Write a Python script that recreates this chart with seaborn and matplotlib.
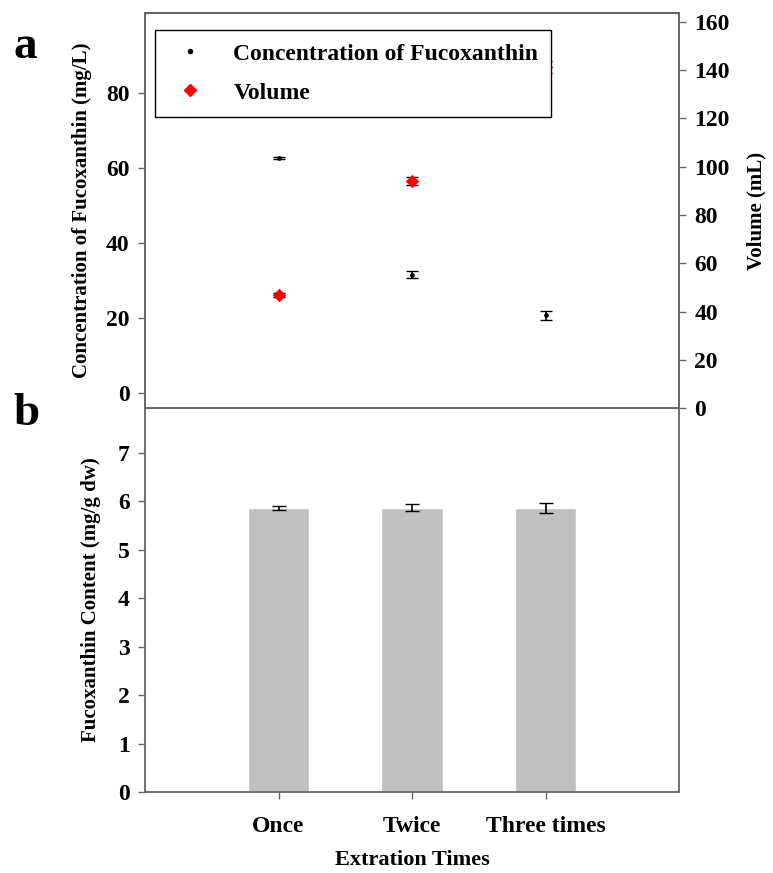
import matplotlib.pyplot as plt
import seaborn as sns
import pandas as pd

times = ['Once', 'Twice', 'Three times']
conc = [62.7, 31.5, 20.7]
conc_err = [0.3, 0.9, 1.1]
volume = [47.0, 94.0, 141.5]
volume_err = [0.8, 1.6, 2.5]
content = [5.87, 5.87, 5.86]
content_err = [0.04, 0.07, 0.10]

sns.set_theme(style='white')
plt.rcParams['font.family'] = ['Liberation Serif', 'DejaVu Serif']
plt.rcParams['font.weight'] = 'bold'
plt.rcParams['axes.labelweight'] = 'bold'
plt.rcParams['text.color'] = 'black'
plt.rcParams['axes.labelcolor'] = 'black'
plt.rcParams['xtick.color'] = 'black'
plt.rcParams['ytick.color'] = 'black'
spine_col = '#666666'

fig = plt.figure(figsize=(7.73, 8.73), dpi=100)
ax1 = fig.add_axes([0.1876, 0.5326, 0.691, 0.4525])
ax3 = fig.add_axes([0.1876, 0.0928, 0.691, 0.4399])

pos = list(range(len(times)))
df = pd.DataFrame({'pos': pos, 'times': times, 'conc': conc, 'volume': volume,
                   'content': content})

# panel a
ax2 = ax1.twinx()
ax1.errorbar(pos, conc, yerr=conc_err, fmt='none', ecolor='black', capsize=4, lw=1.2)
sns.scatterplot(data=df, x='pos', y='conc', ax=ax1, color='black', marker='o', s=10,
                edgecolor='black', legend=False, zorder=3)
ax2.errorbar(pos, volume, yerr=volume_err, fmt='none', ecolor='black', capsize=4, lw=1.2)
sns.scatterplot(data=df, x='pos', y='volume', ax=ax2, color='red', marker='D', s=40,
                edgecolor='red', legend=False, zorder=3)
ax1.set_xlim(-1, 3)
ax1.set_ylim(-4, 101.3)
ax2.set_ylim(0, 163.7)
ax1.set_yticks([0, 20, 40, 60, 80])
ax2.set_yticks(range(0, 161, 20))
ax1.set_xticks([])
ax1.set_xlabel('')
ax1.set_ylabel('Concentration of Fucoxanthin (mg/L)', fontsize=15, fontweight='bold',
               labelpad=10)
ax2.set_ylabel('Volume (mL)', fontsize=15, fontweight='bold', labelpad=12)
ax2.set_xlabel('')

h1 = plt.Line2D([], [], ls='none', marker='o', ms=3, color='black')
h2 = plt.Line2D([], [], ls='none', marker='D', ms=6, color='red')
leg = ax2.legend([h1, h2], ['Concentration of Fucoxanthin', 'Volume'],
                 loc='upper left', bbox_to_anchor=(0.019, 0.957), frameon=True,
                 fancybox=False, edgecolor='black', framealpha=1,
                 prop={'size': 17, 'weight': 'bold'}, handletextpad=0.9,
                 borderpad=0.55, labelspacing=0.75, handlelength=1.86, borderaxespad=0.0)
leg.get_frame().set_linewidth(1.0)

# panel b
sns.barplot(data=df, x='pos', y='content', ax=ax3, color='#c0c0c0', width=0.46,
            errorbar=None, saturation=1, native_scale=True)
ax3.errorbar(pos, content, yerr=content_err, fmt='none', ecolor='black', capsize=5, lw=1.2)
ax3.set_xlim(-1, 3)
ax3.set_ylim(0, 7.93)
ax3.set_yticks(range(0, 8))
ax3.set_xticks(pos)
ax3.set_xticklabels(times)
ax3.set_xlabel('Extration Times', fontsize=16, fontweight='bold', labelpad=10)
ax3.set_ylabel('Fucoxanthin Content (mg/g dw)', fontsize=15, fontweight='bold',
               labelpad=12)

for ax in (ax1, ax2, ax3):
    for sp in ax.spines.values():
        sp.set_color(spine_col)
        sp.set_linewidth(1.3)
    ax.tick_params(axis='both', which='both', direction='out', length=5, width=1,
                   color=spine_col, labelsize=17, pad=6)
ax1.tick_params(axis='y', left=True)
ax2.tick_params(axis='y', right=True)
ax3.tick_params(axis='y', left=True)
ax3.tick_params(axis='x', bottom=True, pad=12)
for lab in ax1.get_yticklabels() + ax2.get_yticklabels() + ax3.get_yticklabels() + ax3.get_xticklabels():
    lab.set_fontweight('bold')

fig.text(0.018, 0.934, 'a', fontsize=34, fontweight='bold')
fig.text(0.018, 0.513, 'b', fontsize=34, fontweight='bold')

plt.savefig('out.png', dpi=100)
plt.close()
